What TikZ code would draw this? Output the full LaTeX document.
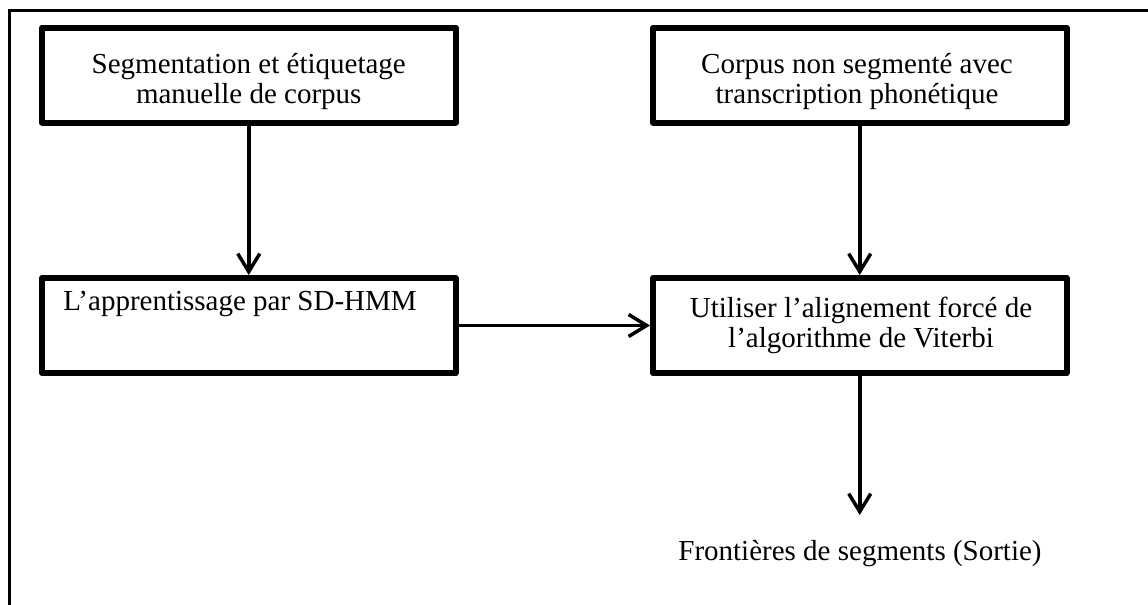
\documentclass[tikz,border=0pt]{standalone}
\usepackage{fontspec}
\setmainfont{Liberation Serif}
\usetikzlibrary{arrows.meta}
\begin{document}
\begin{tikzpicture}[x=0.5pt,y=-0.5pt,
  stepbox/.style={draw, line width=3pt, line join=round, inner sep=0pt,
    minimum width=206.75pt, minimum height=47.5pt},
  flow/.style={line width=1.75pt, -{Straight Barb[length=9pt,width=11pt]}},
  frame/.style={line width=1.5pt},
  lbl/.style={font=\fontsize{14.5}{17}\selectfont, inner sep=0pt, anchor=base}]
\useasboundingbox (0,0) rectangle (1148,605);
% open outer frame (top and left edges)
\draw[frame] (9,605) -- (9,10) -- (1148,10);

% boxes
\node[stepbox] (seg)   at (248.75,75) {};
\node[stepbox] (corp)  at (859.75,75) {};
\node[stepbox] (learn) at (248.75,325.5) {};
\node[stepbox] (vit)   at (859.75,325.5) {};

% box texts
\node[lbl] (seg1)  at (248.75,73)  {Segmentation et étiquetage};
\node[lbl] (seg2)  at (248.75,103) {manuelle de corpus};
\node[lbl] (corp1) at (857,73)  {Corpus non segmenté avec};
\node[lbl] (corp2) at (857,103) {transcription phonétique};
\node[lbl, anchor=base west] (learn1) at (63,310) {L’apprentissage par SD-HMM};
\node[lbl] (vit1) at (861,317) {Utiliser l’alignement forcé de};
\node[lbl] (vit2) at (861,347) {l’algorithme de Viterbi};

% output
\coordinate (out) at (859.75,515);
\node[lbl] (outlbl) at (860,560) {Frontières de segments (Sortie)};

% connectors
\draw[flow] (seg.south) -- (learn.north);
\draw[flow] (corp.south) -- (vit.north);
\draw[flow] (learn.east) -- (vit.west);
\draw[flow] (vit.south) -- (out);
\end{tikzpicture}
\end{document}
